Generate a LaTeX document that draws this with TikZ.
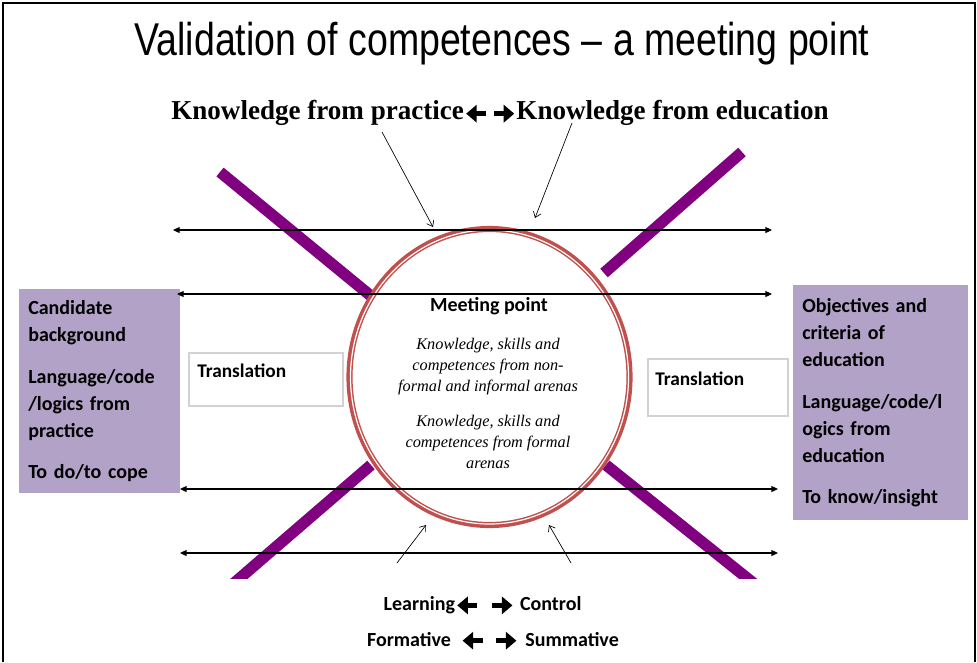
\documentclass[tikz,border=0pt]{standalone}
\usepackage{graphicx}
\usepackage{fontspec}
\setmainfont{Liberation Serif}
\newfontfamily\calibri{Carlito}
\newfontfamily\arialfont{Liberation Sans}
\usetikzlibrary{arrows.meta,shadows}
\definecolor{barpurple}{HTML}{800080}
\definecolor{boxlilac}{HTML}{B3A2C7}
\definecolor{ringred}{HTML}{C0504D}
% heavy text arrows
\newcommand{\lar}{\tikz[baseline=-4pt,x=1pt,y=1pt]\draw[line width=3.4pt,{Triangle[length=8pt,width=13pt]}-] (0,0) -- (15,0);}
\newcommand{\rar}{\tikz[baseline=-4pt,x=1pt,y=1pt]\draw[line width=3.4pt,-{Triangle[length=8pt,width=13pt]}] (0,0) -- (15,0);}
\tikzset{every picture/.style={x=0.75pt,y=-0.75pt}}
\tikzset{
  bar/.style={barpurple, line width=8.5pt},
  bidir/.style={{Triangle[length=5pt,width=4.5pt]}-{Triangle[length=5pt,width=4.5pt]}, line width=0.8pt},
  pointer/.style={-{Straight Barb[length=4pt,width=6pt]}, line width=0.5pt},
  sidebox/.style={fill=boxlilac, anchor=north west, align=left, inner xsep=6.75pt,
    font=\calibri\bfseries\fontsize{15}{20.25}\selectfont},
  transbox/.style={draw=gray!35, line width=1.5pt, fill=white, anchor=north west,
    drop shadow={opacity=0.2, shadow xshift=1pt, shadow yshift=-1pt}},
  boldtext/.style={font=\calibri\bfseries\fontsize{15}{20}\selectfont, inner sep=0pt}
}

\begin{document}
\begin{tikzpicture}
  \useasboundingbox (0,0) rectangle (977,662);
  \draw[line width=1.1pt] (3,662) -- (3,3) -- (975,3) -- (975,662);

  % Headings
  \node[anchor=base, inner sep=0pt, font=\arialfont\fontsize{34.5}{40}\selectfont] (title)
    at (502,55) {\scalebox{0.815}[1]{Validation of competences – a meeting point}};
  \node[anchor=base, inner sep=0pt, font=\bfseries\fontsize{20.5}{24}\selectfont] (practedu)
    at (500,119) {\scalebox{0.99}[1]{Knowledge from practice\lar\hspace{3pt}\rar Knowledge from education}};

  % Crossing bars
  \draw[bar] (220,172) -- (371,296);
  \draw[bar] (742,152) -- (604,273);
  \begin{scope}
    \clip (0,0) rectangle (977,578);
    \draw[bar] (371,465) -- (226,590);
    \draw[bar] (606,465) -- (762,590);
  \end{scope}

  % Meeting circle
  \draw[ringred, line width=4.6pt] (489.5,377) ellipse [x radius=140, y radius=148];
  \draw[white, line width=0.9pt] (489.5,377) ellipse [x radius=139, y radius=147];

  % Side boxes
  \node[sidebox, text width=107.25pt, minimum height=153pt] (candidate) at (19,289)
    {Candidate\\background\\[11pt]Language/code\\/logics from\\practice\\[11pt]To do/to cope};
  \node[sidebox, text width=117.75pt, minimum height=176.25pt] (objectives) at (793,285)
    {Objectives and\\criteria of\\education\\[11pt]Language/code/l\\ogics from\\education\\[11pt]To know/insight};

  % Translation boxes
  \node[transbox, minimum width=115.5pt, minimum height=39.75pt] (transL) at (188,352) {};
  \node[transbox, minimum width=105pt, minimum height=42.75pt] (transR) at (647,358) {};
  \node[boldtext, anchor=base west, font=\calibri\bfseries\fontsize{14.5}{18}\selectfont] (transLtext) at (197,377.7) {Translation};
  \node[boldtext, anchor=base west, font=\calibri\bfseries\fontsize{14.5}{18}\selectfont] (transRtext) at (655,385) {Translation};

  % Horizontal arrows
  \coordinate (topL) at (173,230);  \coordinate (topR) at (772,230);
  \coordinate (upL) at (177,294);   \coordinate (upR) at (772,294);
  \coordinate (lowL) at (180,489);  \coordinate (lowR) at (778,489);
  \coordinate (botL) at (180,553);  \coordinate (botR) at (778,553);
  \draw[bidir] (topL) -- (topR);
  \draw[bidir] (upL) -- (upR);
  \draw[bidir] (lowL) -- (lowR);
  \draw[bidir] (botL) -- (botR);

  % Pointers to the circle
  \coordinate (pA) at (382,132);  \coordinate (pAend) at (433,227);
  \coordinate (pB) at (572,123);  \coordinate (pBend) at (535,218);
  \coordinate (pC) at (397,563);  \coordinate (pCend) at (426,525);
  \coordinate (pD) at (571,563);  \coordinate (pDend) at (549,525);
  \draw[pointer] (pA) -- (pAend);
  \draw[pointer] (pB) -- (pBend);
  \draw[pointer] (pC) -- (pCend);
  \draw[pointer] (pD) -- (pDend);

  % Circle text
  \node[boldtext, anchor=base] (meettitle) at (489,311.7) {Meeting point};
  \node[anchor=north, align=center, inner sep=0pt, font=\itshape\fontsize{12.2}{15.75}\selectfont] (meettext)
    at (488,338) {Knowledge, skills and\\competences from non-\\formal and informal arenas\\[10.5pt]
    Knowledge, skills and\\competences from formal\\arenas};

  % Bottom text
  \node[boldtext, anchor=base] (learnctl) at (482.5,610.7) {Learning\lar\hspace{8pt}\rar\hspace{4pt}Control};
  \node[boldtext, anchor=base] (formsum) at (493,646) {Formative\hspace{7pt}\lar\hspace{7pt}\rar\hspace{5pt}Summative};
\end{tikzpicture}
\end{document}
